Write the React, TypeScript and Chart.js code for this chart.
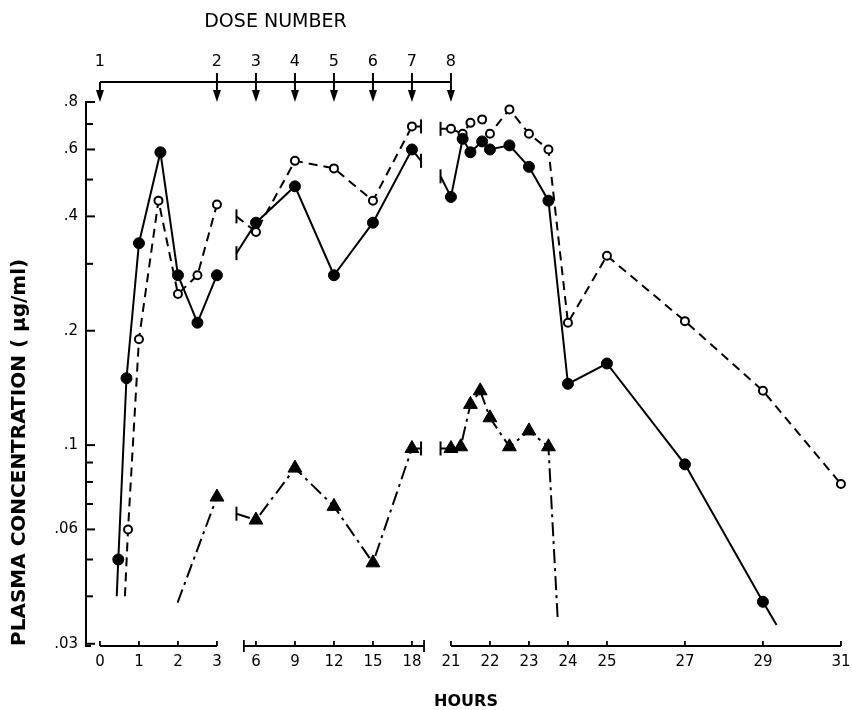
import React, { useEffect, useRef } from 'react';
import { Chart, registerables } from 'chart.js';

Chart.register(...registerables);

// ---- axis tick data ----
const hourTicks = [0, 1, 2, 3, 6, 9, 12, 15, 18, 21, 22, 23, 24, 25, 27, 29, 31];
const doseHours = [0, 3, 6, 9, 12, 15, 18, 21];
const doseNumbers = ['1', '2', '3', '4', '5', '6', '7', '8'];
const yTicks = [0.03, 0.04, 0.05, 0.06, 0.07, 0.08, 0.09, 0.1, 0.2, 0.3, 0.4, 0.5, 0.6, 0.7, 0.8];
const yTickLabels = ['.03', '', '', '.06', '', '', '', '.1', '.2', '', '.4', '', '.6', '', '.8'];
// axis sections (hours) of the broken time axis
const axisSections = [[0, 3], [5.07, 18.93], [21, 31]];

// ---- filled circles, solid line ----
const solidHours = [0.47, 0.68, 1, 1.55, 2, 2.5, 3, 6, 9, 12, 15, 18, 21, 21.3, 21.5, 21.8, 22, 22.5, 23, 23.5, 24, 25, 27, 29];
const solidValues = [0.05, 0.15, 0.34, 0.59, 0.28, 0.21, 0.28, 0.385, 0.48, 0.28, 0.385, 0.6, 0.45, 0.64, 0.59, 0.63, 0.6, 0.615, 0.54, 0.44, 0.145, 0.164, 0.089, 0.0387];
const solidTrailHours = [0.43, 4.5, 18.7, 20.2, 29.35];
const solidTrailValues = [0.04, 0.32, 0.56, 0.51, 0.0336];

// ---- open circles, dashed line ----
const openHours = [0.72, 1, 1.5, 2, 2.5, 3, 6, 9, 12, 15, 18, 21, 21.3, 21.5, 21.8, 22, 22.5, 23, 23.5, 24, 25, 27, 29, 31];
const openValues = [0.06, 0.19, 0.44, 0.25, 0.28, 0.43, 0.364, 0.56, 0.535, 0.44, 0.69, 0.68, 0.66, 0.705, 0.72, 0.66, 0.765, 0.66, 0.6, 0.21, 0.315, 0.212, 0.139, 0.079];
const openTrailHours = [0.64, 4.5, 18.7, 20.2];
const openTrailValues = [0.04, 0.4, 0.69, 0.68];

// ---- triangles, dash-dot line ----
const triHours = [3, 6, 9, 12, 15, 18, 21, 21.25, 21.5, 21.75, 22, 22.5, 23, 23.5];
const triValues = [0.073, 0.0635, 0.087, 0.069, 0.049, 0.098, 0.098, 0.099, 0.128, 0.139, 0.118, 0.099, 0.109, 0.099];
const triTrailHours = [1.99, 4.5, 18.7, 20.2, 23.74];
const triTrailValues = [0.0385, 0.066, 0.098, 0.098, 0.0345];

// broken axis: hours -> axis position
function hourToPos(h: number): number {
  if (h <= 3) return h;
  if (h < 6) return 3 + (h - 3) / 3;
  if (h <= 18) return 4 + (h - 6) / 3;
  if (h < 21) return 8 + (h - 18) / 3;
  return 9 + (h - 21);
}
function section(h: number): number {
  return h < 4 ? 0 : h < 19.5 ? 1 : 2;
}
function isBreak(h: number): boolean {
  return (h > 3 && h < 6) || (h > 18 && h < 21);
}

function buildPoints(hours: number[], values: number[], tH: number[], tV: number[]) {
  const pts = hours
    .map((h, i) => ({ h, v: values[i], trail: false }))
    .concat(tH.map((h, i) => ({ h, v: tV[i], trail: true })))
    .sort((a, b) => a.h - b.h);
  const out: any[] = [];
  pts.forEach((p, i) => {
    if (i > 0 && section(p.h) !== section(pts[i - 1].h)) {
      out.push({ x: hourToPos((p.h + pts[i - 1].h) / 2), y: null });
    }
    out.push({ x: hourToPos(p.h), y: p.v, trail: p.trail, brk: p.trail && isBreak(p.h) });
  });
  return out;
}

const FONT = '"DejaVu Sans", sans-serif';
const X_MIN = -0.358;
const X_MAX = 19.13;

function makeDataset(points: any[], marker: 'filled' | 'open' | 'tri', dash: number[]) {
  return {
    data: points,
    borderColor: '#000',
    borderWidth: 2,
    borderDash: dash,
    fill: false,
    tension: 0,
    spanGaps: false,
    pointStyle: (c: any) => (c.raw && c.raw.trail ? 'line' : marker === 'tri' ? 'triangle' : 'circle'),
    pointRotation: (c: any) => (c.raw && c.raw.trail ? 90 : 0),
    pointRadius: (c: any) => {
      const r = c.raw;
      if (!r || r.y == null) return 0;
      if (r.trail) return r.brk ? 7 : 0;
      return marker === 'filled' ? 5.5 : marker === 'open' ? 4 : 8;
    },
    pointBackgroundColor: marker === 'open' ? '#fff' : '#000',
    pointBorderColor: '#000',
    pointBorderWidth: (c: any) => (c.raw && c.raw.trail ? 2 : marker === 'open' ? 2 : 1),
    order: marker === 'filled' ? 0 : marker === 'open' ? 1 : 2,
  };
}

const decoPlugin = {
  id: 'deco',
  afterDraw(chart: any) {
    const { ctx, chartArea, scales } = chart;
    const { left, top, bottom } = chartArea;
    const x = scales.x;
    const y = scales.y;
    ctx.save();
    ctx.strokeStyle = '#000';
    ctx.fillStyle = '#000';
    ctx.lineWidth = 2;
    ctx.setLineDash([]);
    const seg = (x1: number, y1: number, x2: number, y2: number) => {
      ctx.beginPath();
      ctx.moveTo(x1, y1);
      ctx.lineTo(x2, y2);
      ctx.stroke();
    };
    // inward y ticks
    y.ticks.forEach((t: any) => {
      const py = y.getPixelForValue(t.value);
      seg(left, py, left + (t.label ? 9 : 7), py);
    });
    seg(left, bottom, left + 5, bottom);
    // broken x axis
    ctx.lineWidth = 1.8;
    axisSections.forEach(([a, b], i) => {
      const pa = x.getPixelForValue(hourToPos(a));
      const pb = x.getPixelForValue(hourToPos(b));
      seg(pa, bottom, pb, bottom);
      if (i === 1) {
        seg(pa, bottom - 6, pa, bottom + 6);
        seg(pb, bottom - 6, pb, bottom + 6);
      }
    });
    x.ticks.forEach((t: any) => {
      const px = x.getPixelForValue(t.value);
      seg(px, bottom, px, bottom - 5);
    });
    // dose number axis
    ctx.lineWidth = 2;
    const xs = doseHours.map((h) => x.getPixelForValue(hourToPos(h)));
    const lineY = top - 20;
    seg(xs[0], lineY, xs[xs.length - 1], lineY);
    xs.forEach((px, i) => {
      seg(px, i === 0 ? lineY : lineY - 9, px, top - 8);
      ctx.beginPath();
      ctx.moveTo(px - 4, top - 12);
      ctx.lineTo(px + 4, top - 12);
      ctx.lineTo(px, top);
      ctx.closePath();
      ctx.fill();
    });
    ctx.font = '19px ' + FONT;
    ctx.textAlign = 'center';
    ctx.textBaseline = 'middle';
    ctx.fillText('DOSE NUMBER', (xs[0] + xs[xs.length - 1]) / 2, 22);
    ctx.restore();
  },
};

export default function App() {
  const ref = useRef<HTMLCanvasElement>(null);
  useEffect(() => {
    if (!ref.current) return;
    const chart = new Chart(ref.current, {
      type: 'line',
      data: {
        datasets: [
          makeDataset(buildPoints(triHours, triValues, triTrailHours, triTrailValues), 'tri', [14, 5, 3, 5]) as any,
          makeDataset(buildPoints(openHours, openValues, openTrailHours, openTrailValues), 'open', [9, 6]) as any,
          makeDataset(buildPoints(solidHours, solidValues, solidTrailHours, solidTrailValues), 'filled', []) as any,
        ],
      },
      options: {
        animation: false,
        responsive: false,
        devicePixelRatio: 1,
        events: [],
        clip: false as any,
        layout: { padding: { left: 0, right: 4, top: 0, bottom: 0 } },
        plugins: { legend: { display: false }, tooltip: { enabled: false } },
        scales: {
          x: {
            type: 'linear',
            position: 'bottom',
            min: X_MIN,
            max: X_MAX,
            grid: { display: false, drawTicks: false },
            border: { display: false },
            ticks: {
              autoSkip: false,
              maxRotation: 0,
              padding: 7,
              color: '#000',
              font: { family: FONT, size: 15 },
              callback: (_v: any, i: number) => String(hourTicks[i]),
            },
            afterBuildTicks: (s: any) => {
              s.ticks = hourTicks.map((h) => ({ value: hourToPos(h) }));
            },
            afterFit: (s: any) => {
              s.height = 64;
              s.paddingLeft = 0;
              s.paddingRight = 0;
            },
            title: {
              display: true,
              text: 'HOURS',
              color: '#000',
              font: { family: FONT, size: 16, weight: 'bold', lineHeight: 1 },
              padding: { top: 0, bottom: 0 },
            },
          },
          x2: {
            type: 'linear',
            position: 'top',
            min: X_MIN,
            max: X_MAX,
            grid: { display: false, drawTicks: false },
            border: { display: false },
            ticks: {
              autoSkip: false,
              maxRotation: 0,
              padding: 31,
              color: '#000',
              font: { family: FONT, size: 16 },
              callback: (_v: any, i: number) => doseNumbers[i],
            },
            afterBuildTicks: (s: any) => {
              s.ticks = doseHours.map((h) => ({ value: hourToPos(h) }));
            },
            afterFit: (s: any) => {
              s.height = 102;
              s.paddingLeft = 0;
              s.paddingRight = 0;
            },
          },
          y: {
            type: 'logarithmic',
            min: 0.0296,
            max: 0.8,
            grid: { display: false, drawTicks: false },
            border: { display: true, color: '#000', width: 2 },
            ticks: {
              autoSkip: false,
              padding: 8,
              color: '#000',
              font: { family: FONT, size: 15 },
              callback: (_v: any, i: number) => yTickLabels[i],
            },
            afterBuildTicks: (s: any) => {
              s.ticks = yTicks.map((v) => ({ value: v }));
            },
            afterFit: (s: any) => {
              s.width = 86;
            },
            title: {
              display: true,
              text: 'PLASMA CONCENTRATION ( µg/ml)',
              align: 'start',
              color: '#000',
              font: { family: FONT, size: 20, weight: 'bold' },
              padding: { top: 8, bottom: 0 },
            },
          },
        } as any,
      },
      plugins: [decoPlugin],
    });
    return () => chart.destroy();
  }, []);
  return (
    <div style={{ position: 'absolute', left: 0, top: 0, width: 852, height: 710, background: '#fff' }}>
      <canvas ref={ref} width={852} height={710} style={{ display: 'block', width: 852, height: 710 }} />
    </div>
  );
}
